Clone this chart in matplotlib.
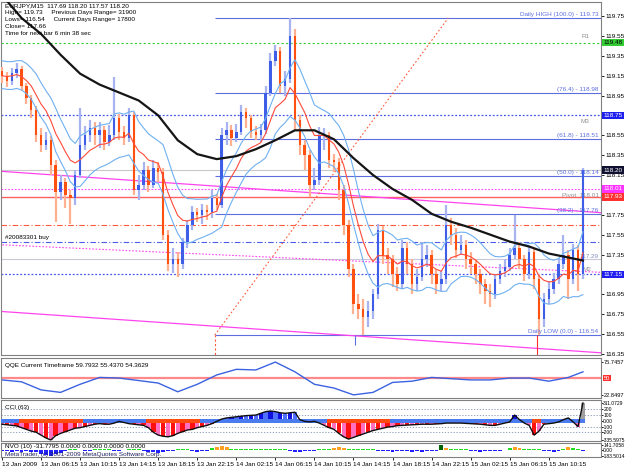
import numpy as np
import pandas as pd
import matplotlib
matplotlib.use('Agg')
import matplotlib.pyplot as plt
import matplotlib.transforms as mtransforms

# EURJPY M15, 13-15 Jan 2009 (drawn here as 30 min bars)
closes = [119.15, 119.10, 119.18, 119.22, 119.05, 118.92, 118.80, 118.55, 118.45, 118.50,
          118.25, 117.98, 118.08, 117.95, 117.92, 118.15, 118.45, 118.55, 118.62, 118.55,
          118.60, 118.48, 118.55, 118.72, 118.58, 118.52, 118.75, 118.00, 118.05, 118.20,
          118.05, 118.22, 118.18, 117.55, 117.25, 117.30, 117.25, 117.48, 117.65, 117.78,
          117.75, 117.80, 117.78, 117.92, 117.85, 118.55, 118.60, 118.52, 118.58, 118.78,
          118.72, 118.58, 118.55, 118.60, 118.98, 119.30, 119.40, 119.05, 119.12, 119.55,
          118.70, 118.45, 118.35, 118.05, 118.10, 118.55, 118.55, 118.30, 118.28, 118.00,
          117.65, 117.20, 116.85, 116.80, 116.72, 116.78, 116.95, 117.60, 117.35, 117.30,
          117.15, 117.05, 117.42, 117.25, 117.05, 117.12, 117.30, 117.35, 117.15, 117.05,
          117.10, 117.65, 117.55, 117.40, 117.45, 117.30, 117.25, 117.15, 117.05, 116.98,
          116.95, 117.10, 117.18, 117.22, 117.35, 117.42, 117.30, 117.15, 117.38, 117.10,
          116.70, 116.90, 117.00, 117.10, 117.25, 117.35, 117.10, 117.40, 117.15, 118.20]
highs = [119.24, 119.19, 119.23, 119.28, 119.25, 119.08, 118.96, 118.84, 118.62, 118.58,
         118.54, 118.30, 118.15, 118.12, 118.00, 118.20, 118.82, 118.64, 118.70, 118.68,
         118.68, 118.64, 118.65, 119.14, 118.76, 118.64, 118.82, 118.78, 118.15, 118.28,
         118.24, 118.30, 118.28, 118.22, 117.60, 117.42, 117.38, 117.52, 117.70, 117.84,
         117.82, 117.86, 117.85, 118.00, 117.96, 118.62, 118.68, 118.65, 118.66, 118.85,
         118.82, 118.75, 118.64, 118.66, 119.05, 119.38, 119.46, 119.44, 119.20, 119.73,
         119.62, 118.75, 118.50, 118.40, 118.22, 118.63, 118.62, 118.58, 118.36, 118.32,
         118.05, 117.70, 117.25, 116.95, 116.90, 116.88, 117.00, 117.66, 117.64, 117.42,
         117.35, 117.22, 117.50, 117.48, 117.30, 117.20, 117.48, 117.45, 117.40, 117.20,
         117.18, 117.85, 117.72, 117.62, 117.55, 117.50, 117.38, 117.30, 117.20, 117.10,
         117.05, 117.15, 117.25, 117.30, 117.42, 117.75, 117.48, 117.35, 117.45, 117.42,
         117.15, 116.96, 117.08, 117.16, 117.32, 117.55, 117.40, 117.46, 117.45, 118.22]
lows = [119.08, 119.04, 119.06, 119.13, 119.00, 118.86, 118.72, 118.48, 118.38, 118.40,
        118.15, 117.68, 117.90, 117.82, 117.66, 117.85, 118.12, 118.40, 118.48, 118.45,
        118.42, 118.40, 118.44, 118.50, 118.50, 118.45, 118.48, 117.95, 117.90, 118.00,
        117.98, 118.02, 118.08, 117.50, 117.18, 117.16, 117.12, 117.20, 117.42, 117.60,
        117.68, 117.66, 117.70, 117.72, 117.80, 117.82, 118.45, 118.44, 118.48, 118.55,
        118.62, 118.52, 118.50, 118.48, 118.56, 118.95, 119.25, 118.98, 118.95, 119.08,
        118.60, 118.35, 118.20, 117.93, 118.00, 118.05, 118.40, 118.22, 118.18, 117.90,
        117.55, 117.12, 116.75, 116.70, 116.54, 116.62, 116.70, 116.90, 117.25, 117.15,
        117.02, 116.98, 117.00, 117.15, 116.95, 116.98, 117.08, 117.22, 117.05, 116.95,
        116.98, 117.05, 117.45, 117.32, 117.35, 117.20, 117.15, 117.05, 116.95, 116.85,
        116.82, 116.90, 117.05, 117.12, 117.18, 117.30, 117.20, 117.08, 117.10, 117.00,
        116.54, 116.62, 116.85, 116.95, 117.05, 117.20, 116.90, 117.05, 116.98, 117.10]
opens = [119.20] + closes[:-1]

# slow moving average (black), read every 4 bars
ma_idx = list(range(0, 120, 4)) + [119]
ma_slow = [119.96, 119.73, 119.57, 119.36, 119.17, 119.06, 118.98, 118.90, 118.75, 118.50,
           118.36, 118.31, 118.34, 118.41, 118.50, 118.60, 118.60, 118.51, 118.32, 118.15,
           118.01, 117.90, 117.76, 117.68, 117.62, 117.55, 117.48, 117.43, 117.36, 117.32, 117.29]

# QQE line, same index as ma_idx
qqe = [47, 44, 31, 27, 40, 51, 50, 46, 42, 28, 40, 55, 64, 63, 75.7, 60, 40, 34, 23, 27,
       43, 45, 51, 49, 47, 47, 50, 50, 45, 51, 60]

cci = [-60, -70, -80, -90, -120, -150, -180, -200, -250, -300, -335, -260, -220, -190, -160, -130, -120, -100, -80, -60,
       -50, -60, -60, -40, -10, -30, -50, -60, -70, -80, -120, -200, -250, -270, -280, -260, -220, -190, -160, -150,
       -120, -100, -80, -50, -10, 30, 50, 60, 70, 80, 90, 95, 100, 130, 160, 170, 160, 140, 130, 140,
       150, 20, -10, -20, -10, -40, -80, -120, -150, -220, -280, -320, -290, -260, -230, -200, -170, -150, -130, -110,
       -100, -85, -80, -75, -70, -65, -60, -60, -60, -55, -50, -40, -40, -40, -40, -45, -50, -55, -60, -70,
       -80, -80, -60, -40, -20, 100, 20, -40, -80, -250, -180, -60, -50, -40, -20, 20, 50, -20, -100, 311]

nvo = [-40, -50, -60, -45, -55, -40, -60, -80, -120, -150, -183, -130, -90, -40, 20, 30, -20, -50, -40, 20,
       30, 25, 15, -30, -40, -20, 10, 20, 30, -40, -60, -80, -90, -60, -50, -30, 20, 30, 25, -40,
       -60, -50, -30, 40, 80, 100, 70, 30, 20, 30, 25, 15, 20, 25, 20, 30, 20, 15, 10, -40,
       -60, -80, -50, -40, -30, 20, 30, 25, 60, 90, 50, 20, 25, 30, 20, 25, 15, -30, -40, -50,
       -60, -40, -30, -50, -60, -40, -70, -50, -40, -30, 141, 60, 30, 20, 30, 25, -30, -50, -60, -40,
       -50, -30, -40, -20, 40, 90, 60, 25, 30, 20, 15, -40, -50, -60, -30, 30, 80, 40, 20, -40]

time_labels = ['13 Jan 2009', '13 Jan 06:15', '13 Jan 10:15', '13 Jan 14:15', '13 Jan 18:15',
               '13 Jan 22:15', '14 Jan 02:15', '14 Jan 06:15', '14 Jan 10:15', '14 Jan 14:15',
               '14 Jan 18:15', '14 Jan 22:15', '15 Jan 02:15', '15 Jan 06:15', '15 Jan 10:15']
time_ticks = list(range(0, 120, 8))
price_ticks = [116.35, 116.55, 116.75, 116.95, 117.15, 117.35, 117.55, 117.75, 117.95,
               118.15, 118.35, 118.55, 118.75, 118.95, 119.15, 119.35, 119.55, 119.75]
hidden_ticks = [117.15, 117.95, 118.75]  # covered by the coloured price boxes

# fibo levels (drawn from the fibo anchor bar to the right)
fib_start = 43.6
fib_levels = [119.73, 118.98, 118.51, 118.14, 117.76, 116.54]
fib_names = ['Daily HIGH (100.0) - 119.73', '(76.4) - 118.98', '(61.8) - 118.51',
             '(50.0) - 118.14', '(38.2) - 117.76', 'Daily LOW (0.0) - 116.54']
# trend lines: (bar, price) anchors
trend_upper = ([-1, 123], [118.19, 117.77])
trend_lower = ([-1, 123], [116.78, 116.36])
trend_dot = ([-1, 123], [117.45, 117.17])
fib_diag = ([43.6, 91.4], [116.54, 119.73])

plt.rcParams['font.family'] = ['Liberation Sans', 'DejaVu Sans']
FS = 4.6
FS2 = 4.1
FS3 = 3.6
BLUE = '#5D6FE0'

fig = plt.figure(figsize=(6.25, 4.69), dpi=100)
L, W = 1 / 625, 600 / 625
ax = fig.add_axes([L, 1 - 355 / 469, W, 353 / 469])
axq = fig.add_axes([L, 1 - 398 / 469, W, 40 / 469])
axc = fig.add_axes([L, 1 - 441 / 469, W, 41 / 469])
axn = fig.add_axes([L, 1 - 457 / 469, W, 14 / 469])
XL = (-0.2, 122.7)

for a in (ax, axq, axc, axn):
    a.set_xlim(*XL)
    a.yaxis.tick_right()
    a.tick_params(axis='y', labelsize=FS2, length=1.5, pad=0.6, width=0.6, colors='black')
    a.set_xticks([])
    for s in a.spines.values():
        s.set_color('#808080')
        s.set_linewidth(0.8)
ax.tick_params(axis='y', labelsize=FS, length=2, pad=1)
axc.tick_params(axis='y', labelsize=FS3, length=1.2, pad=0.4)
axn.tick_params(axis='y', labelsize=FS3, length=1.2, pad=0.4)

# ---- main price panel ----
ax.set_ylim(116.339, 119.891)
ax.set_yticks(price_ticks)
ax.set_yticklabels(['' if p in hidden_ticks else '%.2f' % p for p in price_ticks])

idx = np.arange(len(closes))
up = np.array(closes) >= np.array(opens)
wick_col = np.where(up, '#A8B4F0', '#FFB090')
body_col = np.where(up, '#3F5EE8', '#FF5010')
ax.vlines(idx, lows, highs, colors=wick_col, lw=1.6, zorder=3)
body_lo = np.minimum(opens, closes)
body_h = np.maximum(np.abs(np.array(closes) - np.array(opens)), 0.012)
ax.bar(idx, body_h, bottom=body_lo, width=0.5, color=body_col, zorder=4)

s = pd.Series(closes)
ema = s.ewm(span=10, adjust=False).mean()
band_up = pd.Series(highs).ewm(span=10, adjust=False).mean() + 0.06
band_dn = pd.Series(lows).ewm(span=10, adjust=False).mean() - 0.06
ax.plot(idx, ema, color='#FF4A3A', lw=0.8, zorder=5)
ax.plot(idx, band_up, color='#6FB0F0', lw=0.8, zorder=5)
ax.plot(idx, band_dn, color='#6FB0F0', lw=0.8, zorder=5)
ax.plot(ma_idx, ma_slow, color='#151515', lw=1.6, zorder=6)

# horizontal levels
ax.axhline(119.48, color='#33CC33', lw=0.8, ls=(0, (2, 2)), zorder=2)
ax.axhline(118.75, color='#4455EE', lw=0.9, ls=(0, (1.5, 1.5)), zorder=2)
ax.axhline(118.20, color='#C8C8C8', lw=0.8, zorder=2)
ax.axhline(118.01, color='#FF44FF', lw=0.8, ls=(0, (1.5, 1.5)), zorder=2)
ax.axhline(117.93, color='#FF6060', lw=1.0, zorder=2)
ax.axhline(117.65, color='#FF5A3A', lw=0.8, ls=(0, (5, 2, 1, 2)), zorder=2)
ax.axhline(117.48, color='#4A5EE8', lw=0.8, ls=(0, (5, 2, 1, 2)), zorder=2)
ax.axhline(117.30, color='#C8C8D8', lw=0.8, zorder=2)
ax.axhline(117.15, color='#4455EE', lw=0.9, ls=(0, (1.5, 1.5)), zorder=2)
for lv in fib_levels:
    ax.hlines(lv, fib_start, XL[1], color=BLUE, lw=0.8, zorder=2)
for lv, nm in zip(fib_levels, fib_names):
    ax.text(122.2, lv + 0.01, nm, color=BLUE, fontsize=FS, ha='right', va='bottom', zorder=7)

ax.plot(*trend_upper, color='#FF44EE', lw=0.9, zorder=2)
ax.plot(*trend_lower, color='#FF44EE', lw=0.9, zorder=2)
ax.plot(*trend_dot, color='#FF44EE', lw=0.8, ls=(0, (1.5, 1.5)), zorder=2)
ax.plot(*fib_diag, color='#FF5A3A', lw=0.8, ls=(0, (1.5, 2)), zorder=2)
ax.vlines(fib_start, 116.30, 116.54, color='#FF5A3A', lw=0.8, ls=(0, (2, 2)), zorder=2)
ax.vlines(109.6, 116.30, 116.54, color='#FF3030', lw=0.8, zorder=2)
ax.vlines(72.3, 116.44, 116.54, color=BLUE, lw=0.8, zorder=2)

ax.text(119.5, 119.52, 'R1', color='#909090', fontsize=FS, ha='center', va='bottom')
ax.text(119.5, 118.71, 'M3', color='#909090', fontsize=FS, ha='center', va='top')
ax.text(122.2, 117.97, 'Pivot  118.01', color='#909090', fontsize=FS, ha='right', va='top')
ax.text(119.8, 117.17, 'M2', color='#909090', fontsize=FS, ha='center', va='bottom')
ax.text(122.2, 117.31, '117.29', color='#8090C0', fontsize=FS, ha='right', va='bottom')
ax.text(0.6, 117.50, '#20083301 buy', color='black', fontsize=FS, ha='left', va='bottom')

# right axis boxes
tr = mtransforms.blended_transform_factory(ax.transAxes, ax.transData)
boxes = [(119.48, '#33CC33', 'black'), (118.75, '#1F1FF0', 'white'), (118.20, '#101030', 'white'),
         (118.01, '#FF33FF', 'white'), (117.93, '#FF3030', 'white'), (117.15, '#1F1FF0', 'white')]
for pv, bg, fc in boxes:
    ax.text(1.004, pv, '%.2f' % pv, transform=tr, fontsize=FS, color=fc, ha='left', va='center',
            clip_on=False, zorder=10,
            bbox=dict(boxstyle='square,pad=0.18', fc=bg, ec='none'))

info = ['EURJPY,M15  117.69 118.20 117.57 118.20',
        'High= 119.73     Previous Days Range= 31900',
        'Lows= 116.54     Current Days Range= 17800',
        'Close= 117.66',
        'Time for next bar 6 min 38 sec']
for k, line in enumerate(info):
    fig.text(5 / 625, 1 - (6 + 6.8 * k) / 469, line, fontsize=FS, va='center', ha='left', zorder=8)

# ---- QQE panel ----
axq.set_ylim(18.0, 82.2)
axq.axhline(50, color='#FF8888', lw=1.6, zorder=1)
axq.plot(ma_idx, qqe, color='#3B62E0', lw=1.0, zorder=2)
axq.set_yticks([22.8497, 75.7457])
axq.set_yticklabels(['22.8497', '75.7457'])
trq = mtransforms.blended_transform_factory(axq.transAxes, axq.transData)
axq.text(1.004, 50, '50', transform=trq, fontsize=FS2, color='white', ha='left', va='center',
         clip_on=False, bbox=dict(boxstyle='square,pad=0.15', fc='#FF3030', ec='none'))
axq.text(0.006, 0.8, 'QQE Current Timeframe 59.7932 55.4370 54.3629', transform=axq.transAxes,
         fontsize=FS, va='center', ha='left')

# ---- CCI panel ----
axc.set_ylim(-353, 363)
cci_arr = np.array(cci)
neg_col = ['#FF1010' if i % 2 else '#FF70C0' for i in idx]
pos_col = ['#1010E0' if i % 2 else '#5070FF' for i in idx]
bar_col = np.where(cci_arr < 0, neg_col, pos_col)
bar_col[-1] = '#A0A0A0'
axc.bar(idx, cci_arr, width=0.9, color=bar_col, zorder=2)
for lv in (200, 100, -100, -200):
    axc.axhline(lv, color='#8090B0', lw=0.6, ls=(0, (1.5, 2)), zorder=1)
band_col = np.where(cci_arr < -100, '#FF4A10', '#4A7CF0')
axc.bar(idx, 60, bottom=-30, width=1.0, color=band_col, zorder=3)
axc.plot(idx, cci_arr, color='#101010', lw=1.0, zorder=4)
axc.set_yticks([-335.5975, -200, -100, 0, 100, 200, 311.0729])
axc.set_yticklabels(['-335.5975', '-200', '-100', '0.00', '100', '200', '311.0729'])
axc.text(0.006, 0.82, 'CCI (63)', transform=axc.transAxes, fontsize=FS, va='center', ha='left')

# ---- NVO panel ----
axn.set_ylim(-213, 200)
nvo_arr = np.array(nvo)
nvo_col = np.where(nvo_arr < 0, '#2020FF', np.where(nvo_arr > 120, '#006400',
                   np.where(nvo_arr >= 50, '#FFA020', '#22DD22')))
axn.bar(idx, nvo_arr, width=0.8, color=nvo_col, zorder=2)
axn.set_yticks([-183.5014, 0, 141.7058])
axn.set_yticklabels(['-183.5014', '0.00', '141.7058'])
axn.text(0.006, 0.75, 'NVO (10) -31.7795 0.0000 0.0000 0.0000 0.0000', transform=axn.transAxes,
         fontsize=FS, va='center', ha='left', zorder=5)
axn.text(0.006, 0.2, 'MetaTrader, (c) 2001-2009 MetaQuotes Software Corp.', transform=axn.transAxes,
         fontsize=FS, va='center', ha='left', color='#202060', zorder=5)

axn.set_xticks(time_ticks)
axn.set_xticklabels(time_labels, ha='left')
axn.tick_params(axis='x', labelsize=FS, length=2, pad=1.5, width=0.6)

fig.savefig('out.png', dpi=100, facecolor='white')
